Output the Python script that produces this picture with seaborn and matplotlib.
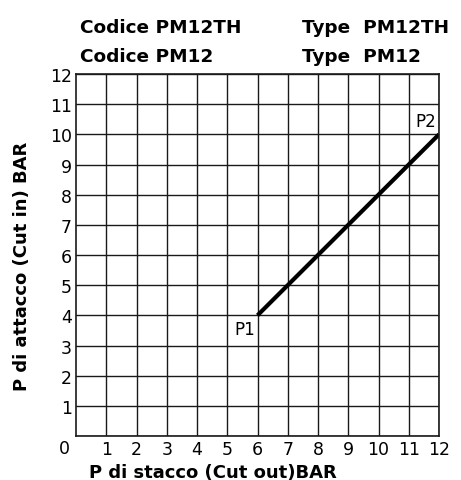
import matplotlib
matplotlib.use("Agg")
import matplotlib.pyplot as plt
import matplotlib.transforms as mtransforms
import seaborn as sns
import pandas as pd

# Data
cut_out = [6, 12]
cut_in = [4, 10]
point_names = ["P1", "P2"]
ticks = list(range(0, 13))

sns.set_style("white")
plt.rcParams['font.family'] = ['DejaVu Sans']
plt.rcParams['text.color'] = 'black'
plt.rcParams['xtick.color'] = 'black'
plt.rcParams['ytick.color'] = 'black'

df = pd.DataFrame({"cut_out": cut_out, "cut_in": cut_in})

fig = plt.figure(figsize=(4.61, 4.81), dpi=100)
ax = fig.add_axes([0.1649, 0.0915, 0.7874, 0.7525])

sns.lineplot(data=df, x="cut_out", y="cut_in", color="black", linewidth=3.0,
             solid_capstyle="butt", ax=ax)

ax.set_xlim(0, 12)
ax.set_ylim(0, 12)
ax.set_xticks(ticks[1:])
ax.set_xticklabels([str(t) for t in ticks[1:]], fontsize=12.5)
ax.set_yticks(ticks)
ax.set_yticklabels([str(t) for t in ticks], fontsize=12.5)
ax.tick_params(axis="both", length=0)
ax.tick_params(axis="x", pad=3)
ax.tick_params(axis="y", pad=3)
ax.grid(True, color="#1a1a1a", linewidth=1.0)
for s in ax.spines.values():
    s.set_color("#1a1a1a")
    s.set_linewidth(1.2)

# push the "0" label down into the corner
zero = ax.get_yticklabels()[0]
zero.set_transform(zero.get_transform() + mtransforms.ScaledTranslation(-0.02, -0.1, fig.dpi_scale_trans))

ax.set_xlabel("")
ax.set_ylabel("")

# point labels
ax.annotate(point_names[0], (cut_out[0], cut_in[0]), xytext=(-2, -3), textcoords="offset points",
            ha="right", va="top", fontsize=12)
ax.annotate(point_names[1], (cut_out[1], cut_in[1]), xytext=(-2, 3), textcoords="offset points",
            ha="right", va="bottom", fontsize=12)

fig.text(213 / 461, 1 - 478 / 481, "P di stacco (Cut out)BAR", ha="center", va="baseline",
         fontsize=13, fontweight="bold")
fig.text(22 / 461, 1 - 266 / 481, "P di attacco (Cut in) BAR", ha="center", va="center",
         rotation=90, fontsize=13, fontweight="bold")

for txt, x, y in [("Codice PM12TH", 80, 33), ("Codice PM12", 80, 62),
                  ("Type  PM12TH", 302, 33), ("Type  PM12", 302, 62)]:
    fig.text(x / 461, 1 - y / 481, txt, ha="left", va="baseline",
             fontsize=13.3, fontweight="bold")

fig.savefig("out.png", dpi=100, facecolor="white")
